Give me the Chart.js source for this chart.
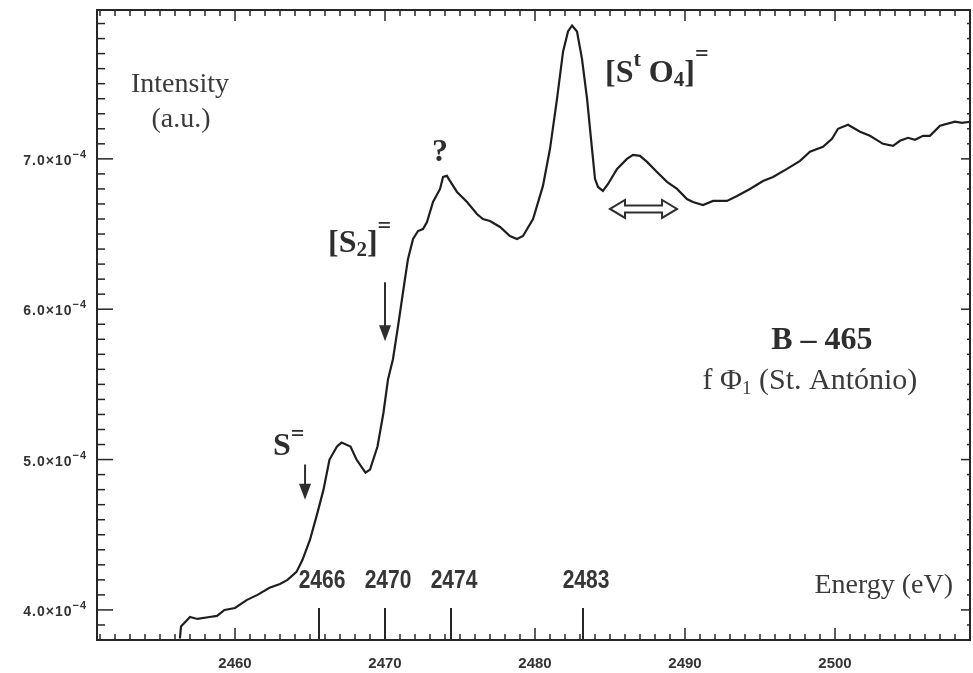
<!DOCTYPE html>
<html>
<head>
<meta charset="utf-8">
<title>XANES B-465</title>
<script src="https://cdn.jsdelivr.net/npm/chart.js@4.4.1/dist/chart.umd.min.js"></script>
<style>
  html, body { margin: 0; padding: 0; background: #fff; }
  canvas { display: block; }
</style>
</head>
<body>
<canvas id="xanes" width="973" height="673"></canvas>
<script>
//sulphur K-edge XANES spectrum, sample B-465

//photon energy (eV)
const energy = [
  2456.33, 2456.4, 2457.0, 2457.5, 2458.3, 2458.8, 2459.3, 2460.0, 2460.8, 2461.5,
  2462.3, 2463.0, 2463.5, 2464.1, 2464.5, 2465.0, 2465.5, 2465.9, 2466.3, 2466.8,
  2467.1, 2467.7, 2468.1, 2468.7, 2469.0, 2469.5, 2469.9, 2470.2, 2470.53, 2470.87,
  2471.2, 2471.53, 2471.87, 2472.2, 2472.53, 2472.8, 2473.2, 2473.67, 2473.87, 2474.13,
  2474.33, 2474.8, 2475.47, 2476.13, 2476.53, 2477.0, 2477.67, 2478.33, 2478.8, 2479.2,
  2479.87, 2480.53, 2481.0, 2481.47, 2481.87, 2482.2, 2482.47, 2482.8, 2483.13, 2483.47,
  2483.8, 2484.0, 2484.2, 2484.53, 2484.87, 2485.47, 2486.13, 2486.53, 2487.0, 2487.47,
  2488.13, 2488.8, 2489.47, 2490.13, 2490.53, 2491.2, 2491.87, 2492.8, 2493.47, 2494.33,
  2495.2, 2495.87, 2496.8, 2497.67, 2498.33, 2499.2, 2499.8, 2500.2, 2500.87, 2501.67,
  2502.33, 2503.2, 2503.87, 2504.33, 2504.87, 2505.33, 2505.87, 2506.33, 2507.0, 2508.0,
  2508.47, 2509.0
];

//intensity in units of 10^-4 (a.u.)
const intensity = [
  3.81, 3.89, 3.953, 3.94, 3.953, 3.96, 4.0, 4.013, 4.067, 4.10,
  4.147, 4.173, 4.20, 4.253, 4.333, 4.467, 4.647, 4.80, 5.00, 5.087,
  5.113, 5.087, 5.00, 4.913, 4.933, 5.087, 5.313, 5.533, 5.667, 5.887,
  6.113, 6.333, 6.467, 6.52, 6.533, 6.58, 6.713, 6.80, 6.88, 6.887,
  6.853, 6.78, 6.713, 6.633, 6.60, 6.587, 6.547, 6.487, 6.467, 6.487,
  6.60, 6.82, 7.067, 7.40, 7.713, 7.847, 7.887, 7.847, 7.667, 7.40,
  7.067, 6.867, 6.813, 6.787, 6.833, 6.933, 7.00, 7.027, 7.02, 6.98,
  6.913, 6.847, 6.80, 6.733, 6.713, 6.693, 6.72, 6.72, 6.753, 6.80,
  6.853, 6.88, 6.933, 6.987, 7.047, 7.08, 7.133, 7.20, 7.227, 7.18,
  7.153, 7.10, 7.087, 7.12, 7.14, 7.127, 7.153, 7.153, 7.22, 7.247,
  7.24, 7.247
];

//marked edge energies (label, where the marker sits)
const peakLabels = ['2466', '2470', '2474', '2483'];
const peakEnergy = [2465.6, 2470.0, 2474.4, 2483.2];

const SERIF = "'Liberation Serif', 'Times New Roman', serif";
const SANS = "'Liberation Sans', Arial, sans-serif";

//write a run of text pieces (text, font, vertical offset), sx squeezes it sideways
function rich(ctx, x, y, parts, align, sx) {
  sx = sx || 1;
  let w = 0;
  parts.forEach(p => { ctx.font = p[1]; w += ctx.measureText(p[0]).width; });
  let cx = 0;
  if (align === 'center') cx = -w / 2;
  if (align === 'right') cx = -w;
  ctx.save();
  ctx.translate(x, y);
  ctx.scale(sx, 1);
  ctx.textAlign = 'left';
  ctx.textBaseline = 'alphabetic';
  parts.forEach(p => {
    ctx.font = p[1];
    ctx.fillText(p[0], cx, p[2] || 0);
    cx += ctx.measureText(p[0]).width;
  });
  ctx.restore();
}

function seg(ctx, x1, y1, x2, y2) {
  ctx.beginPath();
  ctx.moveTo(x1, y1);
  ctx.lineTo(x2, y2);
  ctx.stroke();
}

//downward pointing arrow
function downArrow(ctx, x, yTop, yTip) {
  seg(ctx, x, yTop, x, yTip - 12);
  ctx.beginPath();
  ctx.moveTo(x - 6, yTip - 16);
  ctx.lineTo(x + 6, yTip - 16);
  ctx.lineTo(x, yTip);
  ctx.closePath();
  ctx.fill();
}

//hollow double headed arrow
function doubleArrow(ctx, x1, x2, y) {
  const head = 15, hh = 9, sh = 3.5;
  ctx.beginPath();
  ctx.moveTo(x1, y);
  ctx.lineTo(x1 + head, y - hh);
  ctx.lineTo(x1 + head, y - sh);
  ctx.lineTo(x2 - head, y - sh);
  ctx.lineTo(x2 - head, y - hh);
  ctx.lineTo(x2, y);
  ctx.lineTo(x2 - head, y + hh);
  ctx.lineTo(x2 - head, y + sh);
  ctx.lineTo(x1 + head, y + sh);
  ctx.lineTo(x1 + head, y + hh);
  ctx.closePath();
  ctx.stroke();
}

//frame, inward ticks and all the labels drawn in the plot
const decorations = {
  id: 'decorations',
  afterDatasetsDraw(chart) {
    const ctx = chart.ctx;
    const a = chart.chartArea;
    const x = chart.scales.x;
    const y = chart.scales.y;
    const X = v => x.getPixelForValue(v);
    const Y = v => y.getPixelForValue(v);

    ctx.save();
    ctx.strokeStyle = '#262626';
    ctx.fillStyle = '#262626';
    ctx.lineWidth = 2;
    ctx.strokeRect(a.left, a.top, a.right - a.left, a.bottom - a.top);

    //1 eV minor ticks, 10 eV major ticks
    ctx.lineWidth = 1.5;
    for (let e = Math.ceil(x.min); e <= x.max; e++) {
      const px = X(e);
      const major = e % 10 === 0;
      seg(ctx, px, a.bottom, px, a.bottom - (major ? 12 : 6));
      seg(ctx, px, a.top, px, a.top + (major ? 11 : 6));
    }
    //0.1e-4 minor ticks, 1e-4 major ticks
    for (let k = Math.ceil(y.min * 10 - 1e-6); k <= Math.floor(y.max * 10 + 1e-6); k++) {
      const py = Y(k / 10);
      const major = k % 10 === 0;
      seg(ctx, a.left, py, a.left + (major ? 16 : 8), py);
      seg(ctx, a.right, py, a.right - (major ? 9 : 3), py);
    }

    //intensity tick labels, with a raised exponent
    ctx.fillStyle = '#333';
    ctx.letterSpacing = '1px';
    y.ticks.forEach(t => {
      rich(ctx, a.left - 10, Y(t.value) + 6, [
        [t.value.toFixed(1) + '\u00d710', 'bold 14px ' + SANS],
        ['\u22124', 'bold 11px ' + SANS, -7]
      ], 'right');
    });
    ctx.letterSpacing = '0px';

    //edge markers along the energy axis
    ctx.lineWidth = 2;
    ctx.fillStyle = '#363636';
    peakEnergy.forEach((e, i) => {
      seg(ctx, X(e), a.bottom, X(e), a.bottom - 32);
      rich(ctx, X(e) + 3, Y(4.147), [[peakLabels[i], 'bold 25px ' + SANS]], 'center', 0.84);
    });

    //axis captions
    ctx.fillStyle = '#3a3a3a';
    rich(ctx, X(2456.33), Y(7.447), [['Intensity', '28px ' + SERIF]], 'center');
    rich(ctx, X(2456.4), Y(7.213), [['(a.u.)', '28px ' + SERIF]], 'center');
    rich(ctx, X(2507.87), Y(4.113), [['Energy (eV)', '28px ' + SERIF]], 'right');

    //species labels
    ctx.fillStyle = '#2e2e2e';
    const B = 'bold 32px ' + SERIF;
    rich(ctx, X(2473.67), Y(6.987), [['?', B]], 'center');
    rich(ctx, X(2466.2), Y(6.38), [
      ['[S', B], ['2', 'bold 21px ' + SERIF, 4], [']', B], ['=', 'bold 24px ' + SERIF, -19]
    ]);
    rich(ctx, X(2462.53), Y(5.033), [['S', B], ['=', 'bold 24px ' + SERIF, -14]]);
    rich(ctx, X(2484.67), Y(7.513), [
      ['[S', B], ['t', 'bold 22px ' + SERIF, -16], [' O', B],
      ['4', 'bold 21px ' + SERIF, 4], [']', B], ['=', 'bold 24px ' + SERIF, -21]
    ]);

    //sample name
    rich(ctx, X(2499.13), Y(5.733), [['B \u2013 465', B]], 'center');
    ctx.fillStyle = '#3a3a3a';
    rich(ctx, X(2498.33), Y(5.467), [
      ['f \u03a6', '30px ' + SERIF], ['1', '19px ' + SERIF, 5], [' (St. Ant\u00f3nio)', '30px ' + SERIF]
    ], 'center');

    //arrows
    ctx.strokeStyle = '#2e2e2e';
    ctx.fillStyle = '#2e2e2e';
    ctx.lineWidth = 2;
    downArrow(ctx, X(2470.0), Y(6.18), Y(5.787));
    downArrow(ctx, X(2464.67), Y(4.967), Y(4.733));
    doubleArrow(ctx, X(2485.0), X(2489.47), Y(6.667));

    ctx.restore();
  }
};

const points = energy.map((e, i) => ({ x: e, y: intensity[i] }));

const chart = new Chart(document.getElementById('xanes'), {
  type: 'line',
  data: {
    datasets: [{
      label: 'B-465',
      data: points,
      borderColor: '#1e1e1e',
      borderWidth: 2.2,
      pointRadius: 0,
      tension: 0,
      fill: false
    }]
  },
  options: {
    responsive: false,
    animation: false,
    devicePixelRatio: 1,
    layout: { padding: { top: 10, right: 3, left: 0, bottom: 0 } },
    plugins: {
      legend: { display: false },
      tooltip: { enabled: false }
    },
    scales: {
      x: {
        type: 'linear',
        min: 2450.8,
        max: 2509,
        grid: { display: false, drawTicks: false },
        border: { display: false },
        ticks: {
          stepSize: 10,
          includeBounds: false,
          padding: 15,
          color: '#333',
          font: { family: SANS, size: 15, weight: 'bold' },
          callback: v => String(v)
        },
        afterFit: s => { s.height = 33; s.paddingLeft = 0; s.paddingRight = 0; }
      },
      y: {
        type: 'linear',
        min: 3.8,
        max: 7.99,
        grid: { display: false, drawTicks: false },
        border: { display: false },
        ticks: {
          display: false,
          stepSize: 1,
          includeBounds: false
        },
        afterFit: s => { s.width = 97; s.paddingTop = 0; s.paddingBottom = 0; }
      }
    }
  },
  plugins: [decorations]
});
</script>
</body>
</html>
